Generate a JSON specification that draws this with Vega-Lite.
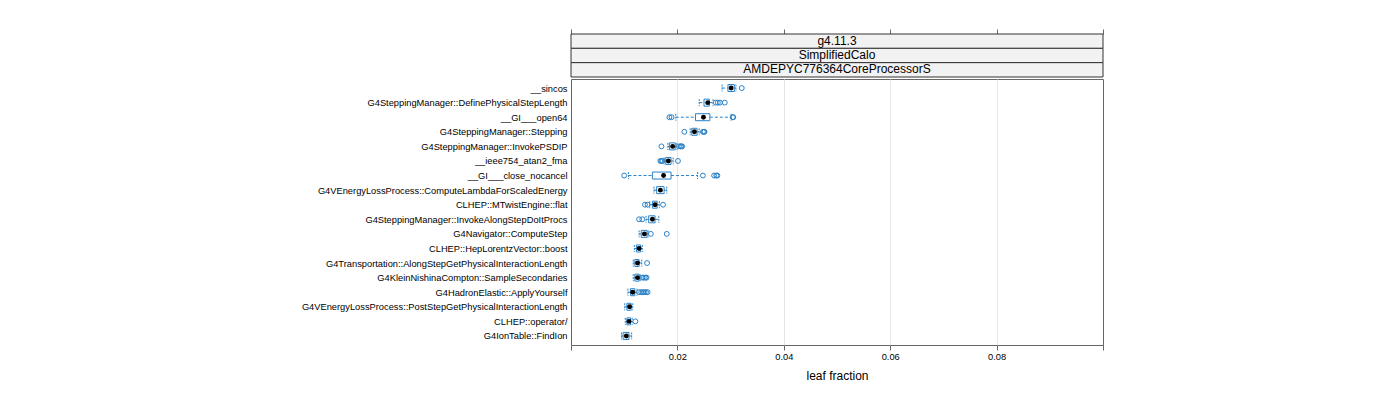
{
  "$schema": "https://vega.github.io/schema/vega-lite/v6.json",
  "padding": {"left": 0, "top": 28, "right": 0, "bottom": 0},
  "autosize": {"type": "pad"},
  "background": "white",
  "spacing": 0,
  "config": {"font": "Liberation Sans", "view": {"stroke": null}},
  "datasets": {
    "boxes": [
      {"name": "__sincos", "lo": 0.0284, "q1": 0.0295, "med": 0.0301, "q3": 0.0307, "hi": 0.0310},
      {"name": "G4SteppingManager::DefinePhysicalStepLength", "lo": 0.0241, "q1": 0.0250, "med": 0.0257, "q3": 0.0260, "hi": 0.0267},
      {"name": "__GI___open64", "lo": 0.0197, "q1": 0.0234, "med": 0.0249, "q3": 0.0261, "hi": 0.0301},
      {"name": "G4SteppingManager::Stepping", "lo": 0.0224, "q1": 0.0227, "med": 0.0232, "q3": 0.0237, "hi": 0.0241},
      {"name": "G4SteppingManager::InvokePSDIP", "lo": 0.0182, "q1": 0.0185, "med": 0.0191, "q3": 0.0196, "hi": 0.0199},
      {"name": "__ieee754_atan2_fma", "lo": 0.0175, "q1": 0.0178, "med": 0.0183, "q3": 0.0188, "hi": 0.0192},
      {"name": "__GI___close_nocancel", "lo": 0.0108, "q1": 0.0153, "med": 0.0174, "q3": 0.0188, "hi": 0.0238},
      {"name": "G4VEnergyLossProcess::ComputeLambdaForScaledEnergy", "lo": 0.0156, "q1": 0.0161, "med": 0.0168, "q3": 0.0175, "hi": 0.0180},
      {"name": "CLHEP::MTwistEngine::flat", "lo": 0.0148, "q1": 0.0153, "med": 0.0158, "q3": 0.0162, "hi": 0.0166},
      {"name": "G4SteppingManager::InvokeAlongStepDoItProcs", "lo": 0.0141, "q1": 0.0146, "med": 0.0153, "q3": 0.0158, "hi": 0.0165},
      {"name": "G4Navigator::ComputeStep", "lo": 0.0128, "q1": 0.0132, "med": 0.0138, "q3": 0.0143, "hi": 0.0145},
      {"name": "CLHEP::HepLorentzVector::boost", "lo": 0.0119, "q1": 0.0123, "med": 0.0128, "q3": 0.0131, "hi": 0.0134},
      {"name": "G4Transportation::AlongStepGetPhysicalInteractionLength", "lo": 0.0117, "q1": 0.0120, "med": 0.0125, "q3": 0.0128, "hi": 0.0133},
      {"name": "G4KleinNishinaCompton::SampleSecondaries", "lo": 0.0117, "q1": 0.0120, "med": 0.0125, "q3": 0.0128, "hi": 0.0130},
      {"name": "G4HadronElastic::ApplyYourself", "lo": 0.0107, "q1": 0.0112, "med": 0.0116, "q3": 0.0120, "hi": 0.0124},
      {"name": "G4VEnergyLossProcess::PostStepGetPhysicalInteractionLength", "lo": 0.0101, "q1": 0.0105, "med": 0.0110, "q3": 0.0113, "hi": 0.0116},
      {"name": "CLHEP::operator/", "lo": 0.0102, "q1": 0.0105, "med": 0.0109, "q3": 0.0112, "hi": 0.0115},
      {"name": "G4IonTable::FindIon", "lo": 0.0095, "q1": 0.0098, "med": 0.0104, "q3": 0.0109, "hi": 0.0114}
    ],
    "outliers": [
      {"name": "__sincos", "v": 0.0321},
      {"name": "G4SteppingManager::DefinePhysicalStepLength", "v": 0.0272},
      {"name": "G4SteppingManager::DefinePhysicalStepLength", "v": 0.0276},
      {"name": "G4SteppingManager::DefinePhysicalStepLength", "v": 0.0280},
      {"name": "G4SteppingManager::DefinePhysicalStepLength", "v": 0.0289},
      {"name": "__GI___open64", "v": 0.0185},
      {"name": "__GI___open64", "v": 0.0189},
      {"name": "__GI___open64", "v": 0.0304},
      {"name": "__GI___open64", "v": 0.0305},
      {"name": "G4SteppingManager::Stepping", "v": 0.0213},
      {"name": "G4SteppingManager::Stepping", "v": 0.0248},
      {"name": "G4SteppingManager::Stepping", "v": 0.0250},
      {"name": "G4SteppingManager::Stepping", "v": 0.0251},
      {"name": "G4SteppingManager::InvokePSDIP", "v": 0.0170},
      {"name": "G4SteppingManager::InvokePSDIP", "v": 0.0203},
      {"name": "G4SteppingManager::InvokePSDIP", "v": 0.0206},
      {"name": "G4SteppingManager::InvokePSDIP", "v": 0.0207},
      {"name": "G4SteppingManager::InvokePSDIP", "v": 0.0209},
      {"name": "__ieee754_atan2_fma", "v": 0.0168},
      {"name": "__ieee754_atan2_fma", "v": 0.0170},
      {"name": "__ieee754_atan2_fma", "v": 0.0172},
      {"name": "__ieee754_atan2_fma", "v": 0.0201},
      {"name": "__GI___close_nocancel", "v": 0.0100},
      {"name": "__GI___close_nocancel", "v": 0.0248},
      {"name": "__GI___close_nocancel", "v": 0.0269},
      {"name": "__GI___close_nocancel", "v": 0.0273},
      {"name": "__GI___close_nocancel", "v": 0.0275},
      {"name": "CLHEP::MTwistEngine::flat", "v": 0.0139},
      {"name": "CLHEP::MTwistEngine::flat", "v": 0.0144},
      {"name": "CLHEP::MTwistEngine::flat", "v": 0.0173},
      {"name": "G4SteppingManager::InvokeAlongStepDoItProcs", "v": 0.0128},
      {"name": "G4SteppingManager::InvokeAlongStepDoItProcs", "v": 0.0134},
      {"name": "G4Navigator::ComputeStep", "v": 0.0150},
      {"name": "G4Navigator::ComputeStep", "v": 0.0180},
      {"name": "G4Transportation::AlongStepGetPhysicalInteractionLength", "v": 0.0143},
      {"name": "G4KleinNishinaCompton::SampleSecondaries", "v": 0.0134},
      {"name": "G4KleinNishinaCompton::SampleSecondaries", "v": 0.0137},
      {"name": "G4KleinNishinaCompton::SampleSecondaries", "v": 0.0140},
      {"name": "G4KleinNishinaCompton::SampleSecondaries", "v": 0.0142},
      {"name": "G4HadronElastic::ApplyYourself", "v": 0.0128},
      {"name": "G4HadronElastic::ApplyYourself", "v": 0.0132},
      {"name": "G4HadronElastic::ApplyYourself", "v": 0.0135},
      {"name": "G4HadronElastic::ApplyYourself", "v": 0.0138},
      {"name": "G4HadronElastic::ApplyYourself", "v": 0.0141},
      {"name": "G4HadronElastic::ApplyYourself", "v": 0.0144},
      {"name": "CLHEP::operator/", "v": 0.0121}
    ]
  },
  "vconcat": [
    {
      "width": 532,
      "height": 43,
      "data": {"values": [
        {"k": 1, "s": "g4.11.3"},
        {"k": 2, "s": "SimplifiedCalo"},
        {"k": 3, "s": "AMDEPYC776364CoreProcessorS"}
      ]},
      "encoding": {
        "y": {"field": "k", "type": "ordinal",
          "scale": {"type": "band", "paddingInner": 0, "paddingOuter": 0},
          "axis": {"labels": false, "ticks": false, "domain": false, "title": null, "minExtent": 570, "maxExtent": 570}}
      },
      "layer": [
        {
          "mark": {"type": "rect", "fill": "#f2f2f2", "stroke": "#333333", "strokeWidth": 1},
          "encoding": {
            "x": {"datum": 0, "type": "quantitative",
              "scale": {"domain": [0, 0.1], "nice": false, "zero": false},
              "axis": {"orient": "top", "values": [0, 0.02, 0.04, 0.06, 0.08, 0.1], "labels": false, "domain": false, "grid": false, "tickSize": 5, "tickColor": "#666666", "title": null, "minExtent": 5, "maxExtent": 5}},
            "x2": {"datum": 0.1}
          }
        },
        {
          "mark": {"type": "text", "fontSize": 12, "color": "black", "dy": -0.5},
          "encoding": {
            "x": {"datum": 0.05, "type": "quantitative"},
            "text": {"field": "s"}
          }
        }
      ]
    },
    {
      "width": 532,
      "height": 266,
      "view": {"stroke": "#666666", "strokeWidth": 1},
      "encoding": {
        "y": {"field": "name", "type": "nominal",
          "scale": {"type": "point", "padding": 0.62, "domain": [
            "__sincos",
            "G4SteppingManager::DefinePhysicalStepLength",
            "__GI___open64",
            "G4SteppingManager::Stepping",
            "G4SteppingManager::InvokePSDIP",
            "__ieee754_atan2_fma",
            "__GI___close_nocancel",
            "G4VEnergyLossProcess::ComputeLambdaForScaledEnergy",
            "CLHEP::MTwistEngine::flat",
            "G4SteppingManager::InvokeAlongStepDoItProcs",
            "G4Navigator::ComputeStep",
            "CLHEP::HepLorentzVector::boost",
            "G4Transportation::AlongStepGetPhysicalInteractionLength",
            "G4KleinNishinaCompton::SampleSecondaries",
            "G4HadronElastic::ApplyYourself",
            "G4VEnergyLossProcess::PostStepGetPhysicalInteractionLength",
            "CLHEP::operator/",
            "G4IonTable::FindIon"
          ]},
          "axis": {"title": null, "ticks": false, "domain": false, "grid": false, "labelPadding": 4, "labelFontSize": 9.3, "labelColor": "black", "labelLimit": 0, "minExtent": 570, "maxExtent": 570}}
      },
      "layer": [
        {
          "data": {"name": "boxes"},
          "mark": {"type": "rule", "color": "#2a82c8", "strokeWidth": 1, "strokeDash": [3, 2]},
          "encoding": {
            "x": {"field": "lo", "type": "quantitative",
              "scale": {"domain": [0, 0.1], "nice": false, "zero": false},
              "axis": {
                "values": [0, 0.02, 0.04, 0.06, 0.08, 0.1],
                "labelExpr": "datum.value > 0.001 && datum.value < 0.099 ? format(datum.value, '.2f') : ''",
                "domain": false, "tickSize": 5, "tickColor": "#666666",
                "grid": true, "gridColor": "#e6e6e6",
                "gridOpacity": {"condition": {"test": "datum.value < 0.001 || datum.value > 0.099", "value": 0}, "value": 1},
                "labelFontSize": 9.3, "labelColor": "black", "labelPadding": 2,
                "title": "leaf fraction", "titleFontSize": 12, "titleFontWeight": "normal", "titleColor": "black", "titlePadding": 9
              }},
            "x2": {"field": "q1"}
          }
        },
        {
          "data": {"name": "boxes"},
          "mark": {"type": "rule", "color": "#2a82c8", "strokeWidth": 1, "strokeDash": [3, 2]},
          "encoding": {
            "x": {"field": "q3", "type": "quantitative"},
            "x2": {"field": "hi"}
          }
        },
        {
          "data": {"name": "boxes"},
          "mark": {"type": "rule", "color": "#2a82c8", "strokeWidth": 1, "strokeDash": [2, 1], "yOffset": -3.5, "y2Offset": 3.5},
          "encoding": {
            "x": {"field": "lo", "type": "quantitative"},
            "y2": {"field": "name"}
          }
        },
        {
          "data": {"name": "boxes"},
          "mark": {"type": "rule", "color": "#2a82c8", "strokeWidth": 1, "strokeDash": [2, 1], "yOffset": -3.5, "y2Offset": 3.5},
          "encoding": {
            "x": {"field": "hi", "type": "quantitative"},
            "y2": {"field": "name"}
          }
        },
        {
          "data": {"name": "boxes"},
          "mark": {"type": "bar", "size": 7, "filled": false, "color": "#2a82c8", "strokeWidth": 1},
          "encoding": {
            "x": {"field": "q1", "type": "quantitative"},
            "x2": {"field": "q3"}
          }
        },
        {
          "data": {"name": "outliers"},
          "mark": {"type": "point", "shape": "circle", "filled": false, "color": "#2a82c8", "size": 24, "strokeWidth": 1, "opacity": 1},
          "encoding": {
            "x": {"field": "v", "type": "quantitative"}
          }
        },
        {
          "data": {"name": "boxes"},
          "mark": {"type": "point", "shape": "circle", "filled": true, "color": "black", "size": 24, "opacity": 1},
          "encoding": {
            "x": {"field": "med", "type": "quantitative"}
          }
        }
      ]
    }
  ]
}
